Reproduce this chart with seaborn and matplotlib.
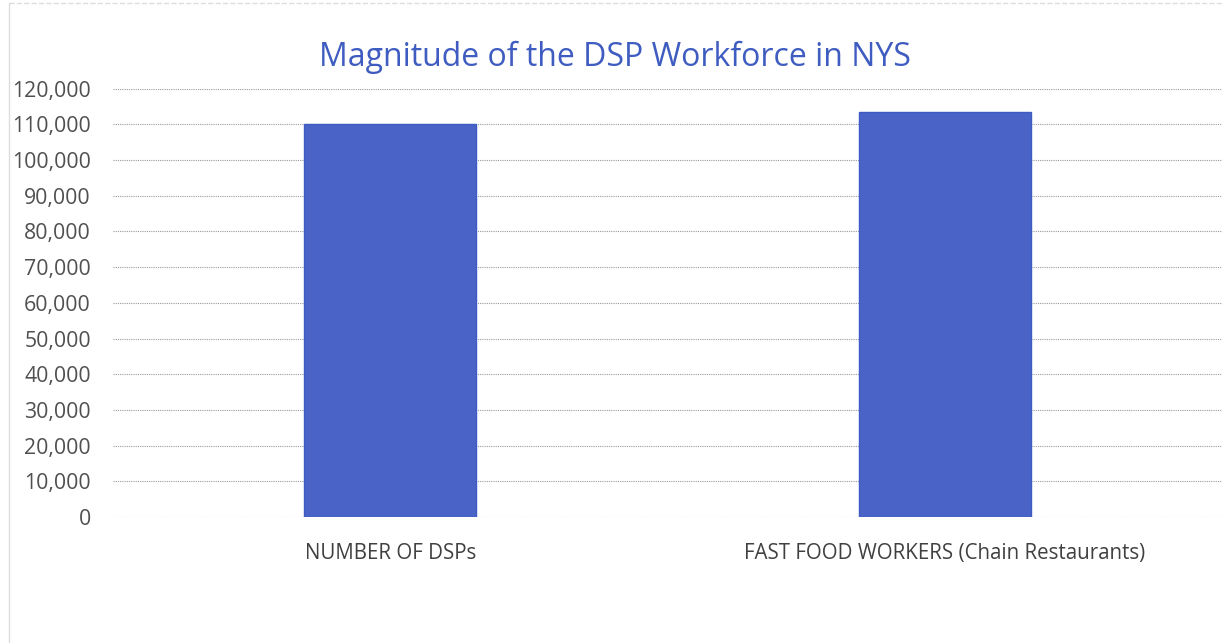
import numpy as np
import matplotlib.pyplot as plt
import seaborn as sns
import pandas as pd
from matplotlib.ticker import FuncFormatter, MultipleLocator

# values
categories = ["NUMBER OF DSPs", "FAST FOOD WORKERS (Chain Restaurants)"]
workers = [110000, 113500]

df = pd.DataFrame({"category": categories, "workers": workers})

sns.set_theme(style="white")
plt.rcParams['font.family'] = ['Open Sans', 'DejaVu Sans']

fig = plt.figure(figsize=(12.22, 6.43), dpi=100)
ax = fig.add_axes([0.0925, 0.196, 0.9075, 0.666])

sns.barplot(data=df, x="category", y="workers", ax=ax, width=0.31,
            color="#4a63c6", saturation=1, edgecolor="#3c5cc4", linewidth=1)

ax.set_ylim(0, 120000)
ax.yaxis.set_major_locator(MultipleLocator(10000))
ax.yaxis.set_major_formatter(FuncFormatter(lambda v, p: f"{int(v):,}"))
ax.grid(axis="y", color="#9a9a9a", linestyle=(0, (1, 1)), linewidth=0.8)
ax.set_axisbelow(True)
for s in ax.spines.values():
    s.set_visible(False)
ax.tick_params(axis="y", labelsize=15.3, colors="#505050", pad=16, length=0)
ax.tick_params(axis="x", labelsize=14.8, colors="#404040", pad=19, length=0)
ax.set_xlabel("")
ax.set_ylabel("")

fig.text(0.503, 0.91, "Magnitude of the DSP Workforce in NYS", ha="center",
         va="center", fontsize=23, color="#3f5cc0")

# faint page border from the scan
fig.add_artist(plt.Line2D([0.007, 0.007], [0.0, 0.995], color="#dddddd", lw=1))
fig.add_artist(plt.Line2D([0.007, 1.0], [0.995, 0.995], color="#dddddd", lw=1,
                          linestyle="--"))

fig.savefig("out.png", dpi=100)
